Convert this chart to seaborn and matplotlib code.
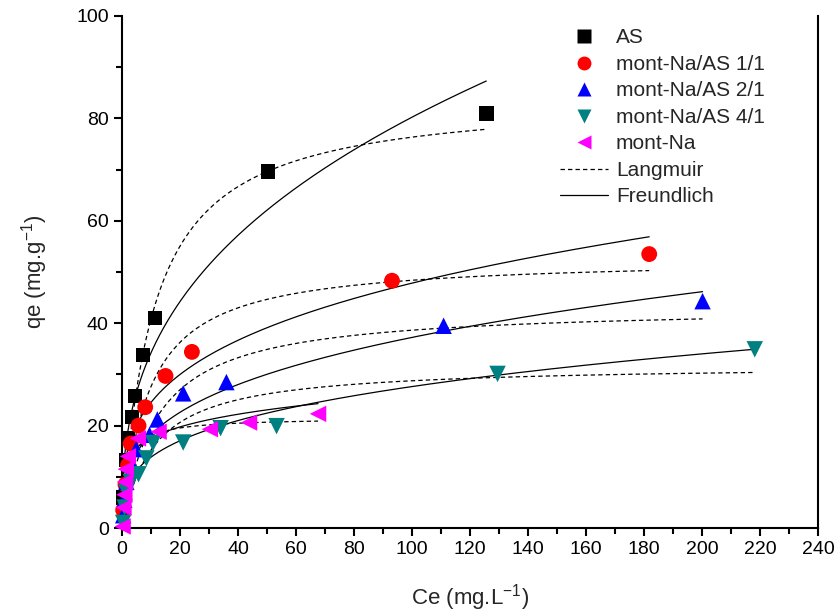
import numpy as np
import pandas as pd
import matplotlib
matplotlib.use("Agg")
import matplotlib.pyplot as plt
from matplotlib.lines import Line2D
import seaborn as sns

# Measured equilibrium data: Ce (mg/L) and qe (mg/g)
series_names = ["AS", "mont-Na/AS 1/1", "mont-Na/AS 2/1", "mont-Na/AS 4/1", "mont-Na"]

ce_as = [0.6, 1.4, 2.1, 3.4, 4.5, 7.2, 11.4, 50.4, 125.6]
qe_as = [6.0, 13.3, 17.6, 21.7, 25.8, 33.8, 41.0, 69.6, 81.0]

ce_11 = [0.4, 1.2, 2.1, 3.0, 5.7, 8.0, 15.0, 24.1, 93.1, 181.8]
qe_11 = [3.5, 8.5, 12.3, 16.5, 20.0, 23.6, 29.7, 34.4, 48.3, 53.5]

ce_21 = [0.4, 0.8, 1.5, 3.8, 4.9, 9.5, 12.2, 21.1, 36.0, 110.9, 200.2]
qe_21 = [2.5, 5.5, 9.0, 12.0, 15.4, 18.2, 21.2, 26.3, 28.5, 39.5, 44.3]

ce_41 = [0.4, 0.9, 1.5, 3.0, 5.7, 8.4, 10.7, 21.1, 34.0, 53.3, 129.5, 218.2]
qe_41 = [1.0, 4.0, 7.0, 9.0, 10.5, 13.6, 16.6, 16.7, 19.5, 19.9, 30.1, 34.9]

ce_na = [0.2, 0.5, 0.8, 1.0, 1.3, 2.0, 5.5, 12.6, 30.3, 43.8, 67.6]
qe_na = [0.3, 4.0, 6.5, 9.0, 11.5, 14.0, 17.5, 18.8, 19.3, 20.6, 22.3]

# Fitted isotherm parameters per series
langmuir_qm = [84.5, 52.8, 43.3, 31.9, 21.5]
langmuir_k = [0.0935, 0.1097, 0.0829, 0.0916, 0.5]
freundlich_kf = [14.6, 12.58, 8.93, 6.94, 11.87]
freundlich_inv_n = [0.37, 0.29, 0.31, 0.30, 0.17]

colors = ["#000000", "#FF0000", "#0000FF", "#008080", "#FF00FF"]
markers = ["s", "o", "^", "v", "<"]

ce_all = [ce_as, ce_11, ce_21, ce_41, ce_na]
qe_all = [qe_as, qe_11, qe_21, qe_41, qe_na]

points = pd.concat(
    [pd.DataFrame({"Ce": c, "qe": q, "sample": s})
     for c, q, s in zip(ce_all, qe_all, series_names)],
    ignore_index=True,
)

curves = []
for i, s in enumerate(series_names):
    c = np.linspace(0.05, max(ce_all[i]), 400)
    kc = langmuir_k[i] * c
    curves.append(pd.DataFrame({"Ce": c, "q": langmuir_qm[i] * kc / (1 + kc),
                                "sample": s, "model": "Langmuir"}))
    curves.append(pd.DataFrame({"Ce": c, "q": freundlich_kf[i] * c ** freundlich_inv_n[i],
                                "sample": s, "model": "Freundlich"}))
curves = pd.concat(curves, ignore_index=True)

sns.set_style("ticks")
plt.rcParams["font.family"] = ["Liberation Sans", "DejaVu Sans"]
plt.rcParams["mathtext.fontset"] = "custom"
plt.rcParams["mathtext.rm"] = "Liberation Sans"

fig = plt.figure(figsize=(8.38, 6.14), dpi=100)
ax = fig.add_axes([0.1456, 0.140, 0.8305, 0.834])

dash = (0, (3.5, 2.5))
for s in series_names:
    sub = curves[curves["sample"] == s]
    sns.lineplot(data=sub[sub["model"] == "Langmuir"], x="Ce", y="q", ax=ax,
                 color="black", lw=0.9, linestyle=dash, legend=False,
                 estimator=None, sort=False)
    sns.lineplot(data=sub[sub["model"] == "Freundlich"], x="Ce", y="q", ax=ax,
                 color="black", lw=0.9, legend=False, estimator=None, sort=False)

sizes = {"s": 110, "o": 130, "^": 140, "v": 140, "<": 140}
for s, col, m in zip(series_names, colors, markers):
    sns.scatterplot(data=points[points["sample"] == s], x="Ce", y="qe", ax=ax,
                    color=col, marker=m, s=sizes[m], edgecolor="none",
                    legend=False, zorder=3, clip_on=False)

ax.set_xlim(0, 240)
ax.set_ylim(0, 100)
ax.set_xticks(np.arange(0, 241, 20))
ax.set_yticks(np.arange(0, 101, 20))
ax.set_xticks(np.arange(10, 240, 20), minor=True)
ax.set_yticks(np.arange(10, 100, 20), minor=True)
ax.tick_params(axis="both", which="major", direction="out", length=6, width=1.5,
               labelsize=14, color="black", labelcolor="black")
ax.tick_params(axis="both", which="minor", direction="out", length=4, width=1.5,
               color="black")

for side in ["left", "bottom", "right"]:
    ax.spines[side].set_linewidth(1.5)
    ax.spines[side].set_color("black")
ax.spines["top"].set_visible(False)
ax.spines["right"].set_visible(True)

ax.set_xlabel("Ce (mg.L$^{\\mathregular{-1}}$)", fontsize=16, labelpad=17)
ax.set_ylabel("qe (mg.g$^{\\mathregular{-1}}$)", fontsize=16, labelpad=19)

handles = [Line2D([], [], linestyle="none", marker=m, color=c, markersize=10,
                  markeredgecolor="none")
           for m, c in zip(markers, colors)]
handles.append(Line2D([], [], color="black", lw=0.9, linestyle=dash))
handles.append(Line2D([], [], color="black", lw=0.9))
labels = series_names + ["Langmuir", "Freundlich"]
ax.legend(handles, labels, loc="upper left", bbox_to_anchor=(0.611, 1.0),
          frameon=False, fontsize=15, handlelength=2.3, handletextpad=0.4,
          labelspacing=0.36, borderaxespad=0.2)

fig.savefig("out.png", dpi=100)
